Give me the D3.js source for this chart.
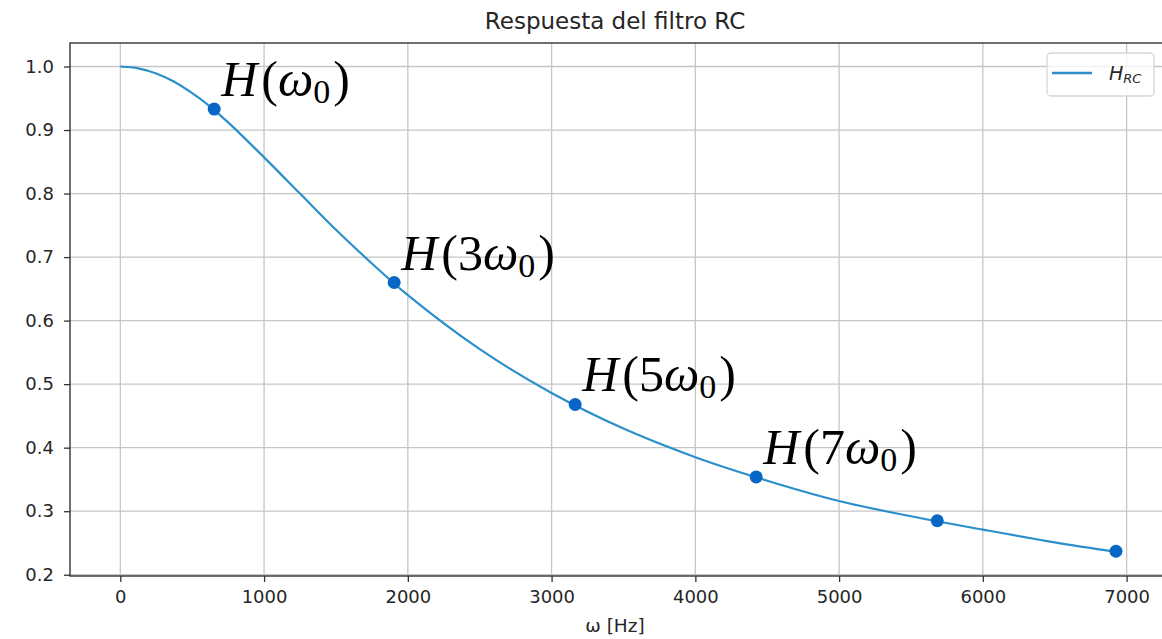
<!DOCTYPE html>
<html>
<head>
<meta charset="utf-8">
<script src="https://cdn.jsdelivr.net/npm/d3@7"></script>
<style>
  body { margin: 0; background: #fff; }
  svg text { font-family: "DejaVu Sans", sans-serif; }
</style>
</head>
<body>
<svg id="chart" width="1162" height="639"></svg>
<script>
// curve (omega in Hz, |H|)
const omegaSamples = [0, 125, 250, 375, 500, 625, 750, 1000, 1250, 1500, 1750, 2000, 2500, 3000, 3500, 4000, 4500, 5000, 5500, 6000, 6500, 6926];
const hSamples = [1.000, 0.997, 0.989, 0.976, 0.958, 0.937, 0.912, 0.857, 0.800, 0.743, 0.690, 0.640, 0.555, 0.486, 0.430, 0.385, 0.348, 0.316, 0.292, 0.271, 0.251, 0.236];

// odd harmonics marked with dots
const markerOmega = [653, 1905, 3164, 4423, 5683, 6926];
const markerH = [0.933, 0.660, 0.468, 0.354, 0.285, 0.237];
const markerCoeff = ["", "3", "5", "7"]; // only the first four get a label

const xTicks = [0, 1000, 2000, 3000, 4000, 5000, 6000, 7000];
const yTicks = [0.2, 0.3, 0.4, 0.5, 0.6, 0.7, 0.8, 0.9, 1.0];

const plot = { left: 70, right: 1164, top: 43, bottom: 576 };
const style = {
  line: "#2b8fcc",
  marker: "#0766c6",
  grid: "#c6c6c6",
  spine: "#333",
  text: "#262626"
};

const svg = d3.select("#chart");

const x = d3.scaleLinear().domain([-350, 7260]).range([plot.left, plot.right]);
const y = d3.scaleLinear().domain([0.198, 1.037]).range([plot.bottom, plot.top]);

// grid
const grid = svg.append("g");
grid.selectAll("line.vx")
  .data(xTicks)
  .join("line")
  .attr("x1", d => x(d)).attr("x2", d => x(d))
  .attr("y1", plot.top).attr("y2", plot.bottom)
  .attr("stroke", style.grid).attr("stroke-width", 1.3);
grid.selectAll("line.hy")
  .data(yTicks)
  .join("line")
  .attr("class", "hy")
  .attr("x1", plot.left).attr("x2", plot.right)
  .attr("y1", d => y(d)).attr("y2", d => y(d))
  .attr("stroke", style.grid).attr("stroke-width", 1.3);

// axes
const xAxis = svg.append("g")
  .attr("transform", `translate(0,${plot.bottom})`)
  .call(d3.axisBottom(x).tickValues(xTicks).tickSize(6).tickPadding(8).tickFormat(d3.format("d")));
const yAxis = svg.append("g")
  .attr("transform", `translate(${plot.left},0)`)
  .call(d3.axisLeft(y).tickValues(yTicks).tickSize(6).tickPadding(10).tickFormat(d3.format(".1f")));

[xAxis, yAxis].forEach(ax => {
  ax.select(".domain").remove();
  ax.selectAll(".tick line").attr("stroke", style.spine).attr("stroke-width", 1.3);
  ax.selectAll(".tick text")
    .attr("fill", style.text)
    .style("font-family", "DejaVu Sans")
    .style("font-size", "18px");
});

// spines
svg.append("rect")
  .attr("x", plot.left).attr("y", plot.top)
  .attr("width", plot.right - plot.left).attr("height", plot.bottom - plot.top)
  .attr("fill", "none").attr("stroke", style.spine).attr("stroke-width", 1.4);

// curve
const line = d3.line()
  .x((d, i) => x(omegaSamples[i]))
  .y(d => y(d))
  .curve(d3.curveCatmullRom.alpha(0.5));

svg.append("path")
  .datum(hSamples)
  .attr("d", line)
  .attr("fill", "none")
  .attr("stroke", style.line)
  .attr("stroke-width", 2.2);

// markers
svg.append("g")
  .selectAll("circle")
  .data(markerOmega)
  .join("circle")
  .attr("cx", d => x(d))
  .attr("cy", (d, i) => y(markerH[i]))
  .attr("r", 6.5)
  .attr("fill", style.marker);

// H(n w0) labels
const labels = svg.append("g")
  .selectAll("text")
  .data(markerCoeff)
  .join("text")
  .attr("x", (d, i) => x(markerOmega[i]) + 7)
  .attr("y", (d, i) => y(markerH[i]) - 13)
  .attr("fill", "#000")
  .style("font-family", "'Liberation Serif', serif")
  .style("font-size", "50px");

labels.append("tspan").style("font-style", "italic").text("H");
labels.append("tspan").attr("dx", 4).text(d => "(" + d);
labels.append("tspan").style("font-style", "italic").text("ω");
labels.append("tspan").attr("dy", 7).style("font-size", "34px").text("0");
labels.append("tspan").attr("dy", -7).attr("dx", 3).text(")");

// title and x label
svg.append("text")
  .attr("x", (plot.left + plot.right) / 2 - 2)
  .attr("y", 29)
  .attr("text-anchor", "middle")
  .attr("fill", style.text)
  .style("font-size", "23px")
  .text("Respuesta del filtro RC");

svg.append("text")
  .attr("x", (plot.left + plot.right) / 2 - 2)
  .attr("y", 632)
  .attr("text-anchor", "middle")
  .attr("fill", style.text)
  .style("font-size", "18.5px")
  .text("ω [Hz]");

// legend
const legend = svg.append("g").attr("transform", "translate(1047,53)");
legend.append("rect")
  .attr("width", 107).attr("height", 43)
  .attr("rx", 4)
  .attr("fill", "#fff").attr("fill-opacity", 0.8)
  .attr("stroke", "#d6d6d6").attr("stroke-width", 1.3);
legend.append("line")
  .attr("x1", 5).attr("x2", 45)
  .attr("y1", 20).attr("y2", 20)
  .attr("stroke", style.line).attr("stroke-width", 2.4);
const legText = legend.append("text")
  .attr("x", 62).attr("y", 27)
  .attr("fill", style.text)
  .style("font-size", "19px")
  .style("font-style", "italic");
legText.append("tspan").text("H");
legText.append("tspan").attr("dy", 3).style("font-size", "13px").text("RC");
</script>
</body>
</html>
